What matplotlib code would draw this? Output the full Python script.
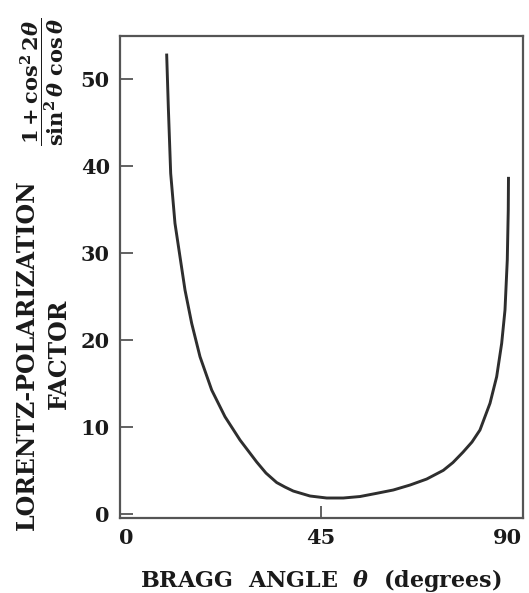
import matplotlib
matplotlib.use("Agg")
import matplotlib.pyplot as plt

plt.rcParams['mathtext.fontset'] = 'custom'
plt.rcParams['mathtext.rm'] = 'DejaVu Serif:bold'
plt.rcParams['mathtext.it'] = 'DejaVu Serif:italic:bold'
plt.rcParams['mathtext.bf'] = 'DejaVu Serif:bold'

# Bragg angle (degrees) and Lorentz-polarization factor
theta = [10.54, 10.90, 11.43, 12.39, 13.51, 14.63, 16.12, 17.98, 20.59, 23.56,
         26.91, 30.64, 32.71, 35.10, 36.96, 38.81, 42.54, 46.27, 49.98, 53.71,
         57.44, 61.14, 64.87, 68.60, 72.31, 74.47, 76.71, 78.72, 80.50, 82.74,
         84.23, 85.35, 86.09, 86.60, 86.82, 86.87]
lp_factor = [52.77, 46.83, 39.16, 33.41, 29.57, 25.74, 21.91, 18.07, 14.24, 11.17,
             8.49, 5.96, 4.69, 3.60, 3.08, 2.62, 2.05, 1.82, 1.82, 1.99,
             2.36, 2.74, 3.31, 4.00, 5.00, 5.90, 7.09, 8.26, 9.64, 12.71,
             15.77, 19.61, 23.44, 29.19, 34.94, 38.59]

x_ticks = [0, 45, 90]
x_ticklabels = ['0', '45', '90']
y_ticks = [0, 10, 20, 30, 40, 50]
y_ticklabels = ['0', '10', '20', '30', '40', '50']

W, H = 529, 593
fig = plt.figure(figsize=(W / 100, H / 100), dpi=100)
fig.patch.set_facecolor('white')
ax = fig.add_axes([119.5 / W, 1 - 518 / H, 403 / W, (518 - 36) / H])

ax.plot(theta, lp_factor, color='#2e2e2e', lw=2.1, solid_joinstyle='round')

ax.set_xlim(0, 90)
ax.set_ylim(-0.48, 54.96)

for s in ax.spines.values():
    s.set_color('#555555')
    s.set_linewidth(1.6)

ax.set_xticks(x_ticks)
ax.set_xticklabels(x_ticklabels)
ax.set_yticks(y_ticks)
ax.set_yticklabels(y_ticklabels)
ax.tick_params(axis='both', direction='in', length=9, width=1.3, color='#555555',
               labelsize=15, labelcolor='#1a1a1a')
ax.tick_params(axis='y', pad=7)
ax.tick_params(axis='x', pad=7)
for lab in ax.get_xticklabels() + ax.get_yticklabels():
    lab.set_fontfamily('DejaVu Serif')
    lab.set_fontweight('bold')
xl = ax.get_xticklabels()
xl[0].set_horizontalalignment('left')
xl[2].set_horizontalalignment('right')

txt = dict(family='DejaVu Serif', weight='bold', color='#1a1a1a')
fig.text(321 / W, 1 - 580 / H, r'BRAGG  ANGLE  $\theta$  (degrees)',
         ha='center', va='center', fontsize=16, **txt)
fig.text(27 / W, 1 - 355 / H, 'LORENTZ-POLARIZATION', rotation=90,
         ha='center', va='center', fontsize=17, **txt)
fig.text(59 / W, 1 - 354 / H, 'FACTOR', rotation=90,
         ha='center', va='center', fontsize=17, **txt)
fig.text(42 / W, 1 - 82 / H,
         r'$\dfrac{1+\cos^2 2\theta}{\sin^2\theta\ \cos\theta}$', rotation=90,
         ha='center', va='center', fontsize=15, color='#1a1a1a')

fig.savefig('out.png', dpi=100, facecolor='white')
